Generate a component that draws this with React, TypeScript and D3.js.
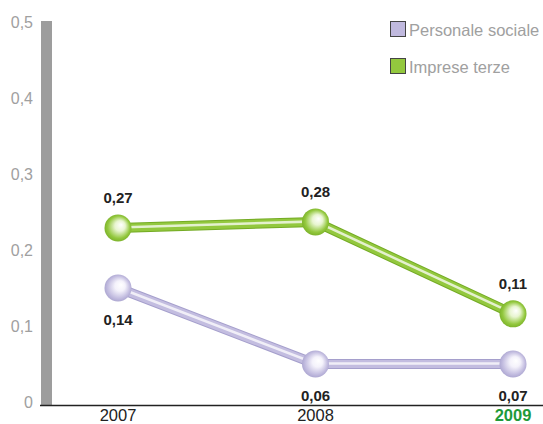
import { useEffect, useRef } from 'react';
import * as d3 from 'd3';

const years = ['2007', '2008', '2009'];
// positions (the printed labels do not match the drawing exactly)
const personaleValues = [0.15, 0.05, 0.05];
const impreseValues = [0.229, 0.237, 0.116];
const personaleLabels = ['0,14', '0,06', '0,07'];
const impreseLabels = ['0,27', '0,28', '0,11'];
const yTicks = [0, 0.1, 0.2, 0.3, 0.4, 0.5];
const legendNames = ['Personale sociale', 'Imprese terze'];

const W = 543;
const H = 424;
const FONT = '"Liberation Sans", Arial, Helvetica, sans-serif';

export default function App() {
  const svgRef = useRef<SVGSVGElement | null>(null);

  useEffect(() => {
    if (!svgRef.current) return;
    const svg = d3.select(svgRef.current);
    svg.selectAll('*').remove();

    const x = d3.scalePoint<string>().domain(years).range([118, 513]);
    const y = d3.scaleLinear().domain([0, 0.5]).range([402, 22]);

    const defs = svg.append('defs');
    const series = [
      { id: 'p', values: personaleValues, labels: personaleLabels, base: '#c3bde0', dark: '#a59fcc', light: '#f4f2fb', below: true },
      { id: 'g', values: impreseValues, labels: impreseLabels, base: '#93c83e', dark: '#74ab24', light: '#e8f5d0', below: false },
    ];

    series.forEach((s) => {
      const rg = defs
        .append('radialGradient')
        .attr('id', `ball-${s.id}`)
        .attr('cx', '50%')
        .attr('cy', '50%')
        .attr('r', '55%')
        .attr('fx', '62%')
        .attr('fy', '38%');
      rg.append('stop').attr('offset', '0%').attr('stop-color', '#ffffff');
      rg.append('stop').attr('offset', '35%').attr('stop-color', s.light);
      rg.append('stop').attr('offset', '75%').attr('stop-color', s.base);
      rg.append('stop').attr('offset', '100%').attr('stop-color', s.dark);
    });

    // gray axis bar
    svg
      .append('rect')
      .attr('x', 41)
      .attr('y', y(0.5) - 1)
      .attr('width', 11)
      .attr('height', 405 - y(0.5) + 1)
      .attr('fill', '#9d9d9d');

    // baseline
    svg.append('line').attr('x1', 40).attr('x2', W).attr('y1', 405.5).attr('y2', 405.5).attr('stroke', '#222').attr('stroke-width', 1.3);

    // y tick labels
    svg
      .append('g')
      .selectAll('text')
      .data(yTicks)
      .enter()
      .append('text')
      .attr('x', 33)
      .attr('y', (d) => y(d) + 5.5)
      .attr('text-anchor', 'end')
      .attr('font-family', FONT)
      .attr('font-size', 16)
      .attr('fill', '#a0a0a0')
      .text((d) => (d === 0 ? '0' : d3.format('.1f')(d).replace('.', ',')));

    // x labels
    svg
      .append('g')
      .selectAll('text')
      .data(years)
      .enter()
      .append('text')
      .attr('x', (d) => x(d)!)
      .attr('y', 421)
      .attr('text-anchor', 'middle')
      .attr('font-family', FONT)
      .attr('font-size', 16.5)
      .attr('font-weight', (d, i) => (i === years.length - 1 ? 700 : 400))
      .attr('fill', (d, i) => (i === years.length - 1 ? '#1f9a3a' : '#222'))
      .text((d) => d);

    const line = d3
      .line<number>()
      .x((_, i) => x(years[i])!)
      .y((d) => y(d));

    series.forEach((s) => {
      const g = svg.append('g');
      g.append('path').attr('d', line(s.values)!).attr('fill', 'none').attr('stroke', s.dark).attr('stroke-width', 10).attr('stroke-linejoin', 'round');
      g.append('path').attr('d', line(s.values)!).attr('fill', 'none').attr('stroke', s.base).attr('stroke-width', 8).attr('stroke-linejoin', 'round');
      g.append('path')
        .attr('d', line(s.values)!)
        .attr('fill', 'none')
        .attr('stroke', '#ffffff')
        .attr('stroke-opacity', 0.75)
        .attr('stroke-width', 2.5)
        .attr('transform', 'translate(0,-0.5)');

      g.selectAll('circle')
        .data(s.values)
        .enter()
        .append('circle')
        .attr('cx', (_, i) => x(years[i])!)
        .attr('cy', (d) => y(d))
        .attr('r', 13.5)
        .attr('fill', `url(#ball-${s.id})`);

      g.selectAll('text')
        .data(s.values)
        .enter()
        .append('text')
        .attr('x', (_, i) => x(years[i])!)
        .attr('y', (d) => (s.below ? y(d) + 37 : y(d) - 25))
        .attr('text-anchor', 'middle')
        .attr('font-family', FONT)
        .attr('font-size', 15)
        .attr('font-weight', 700)
        .attr('fill', '#222')
        .text((_, i) => s.labels[i]);
    });

    // legend
    const legend = svg.append('g');
    const legendFill = ['#c0b9de', '#93c83e'];
    legendNames.forEach((name, i) => {
      const ly = 21 + i * 37;
      legend
        .append('rect')
        .attr('x', 390.5)
        .attr('y', ly + 0.5)
        .attr('width', 15)
        .attr('height', 15)
        .attr('fill', legendFill[i])
        .attr('stroke', '#444')
        .attr('stroke-width', 1);
      legend
        .append('text')
        .attr('x', 409)
        .attr('y', ly + 14.5)
        .attr('font-family', FONT)
        .attr('font-size', 16.5)
        .attr('fill', '#a0a0a0')
        .text(name);
    });
  }, []);

  return <svg ref={svgRef} width={W} height={H} style={{ position: 'absolute', left: 0, top: 0, background: '#fff' }} />;
}
